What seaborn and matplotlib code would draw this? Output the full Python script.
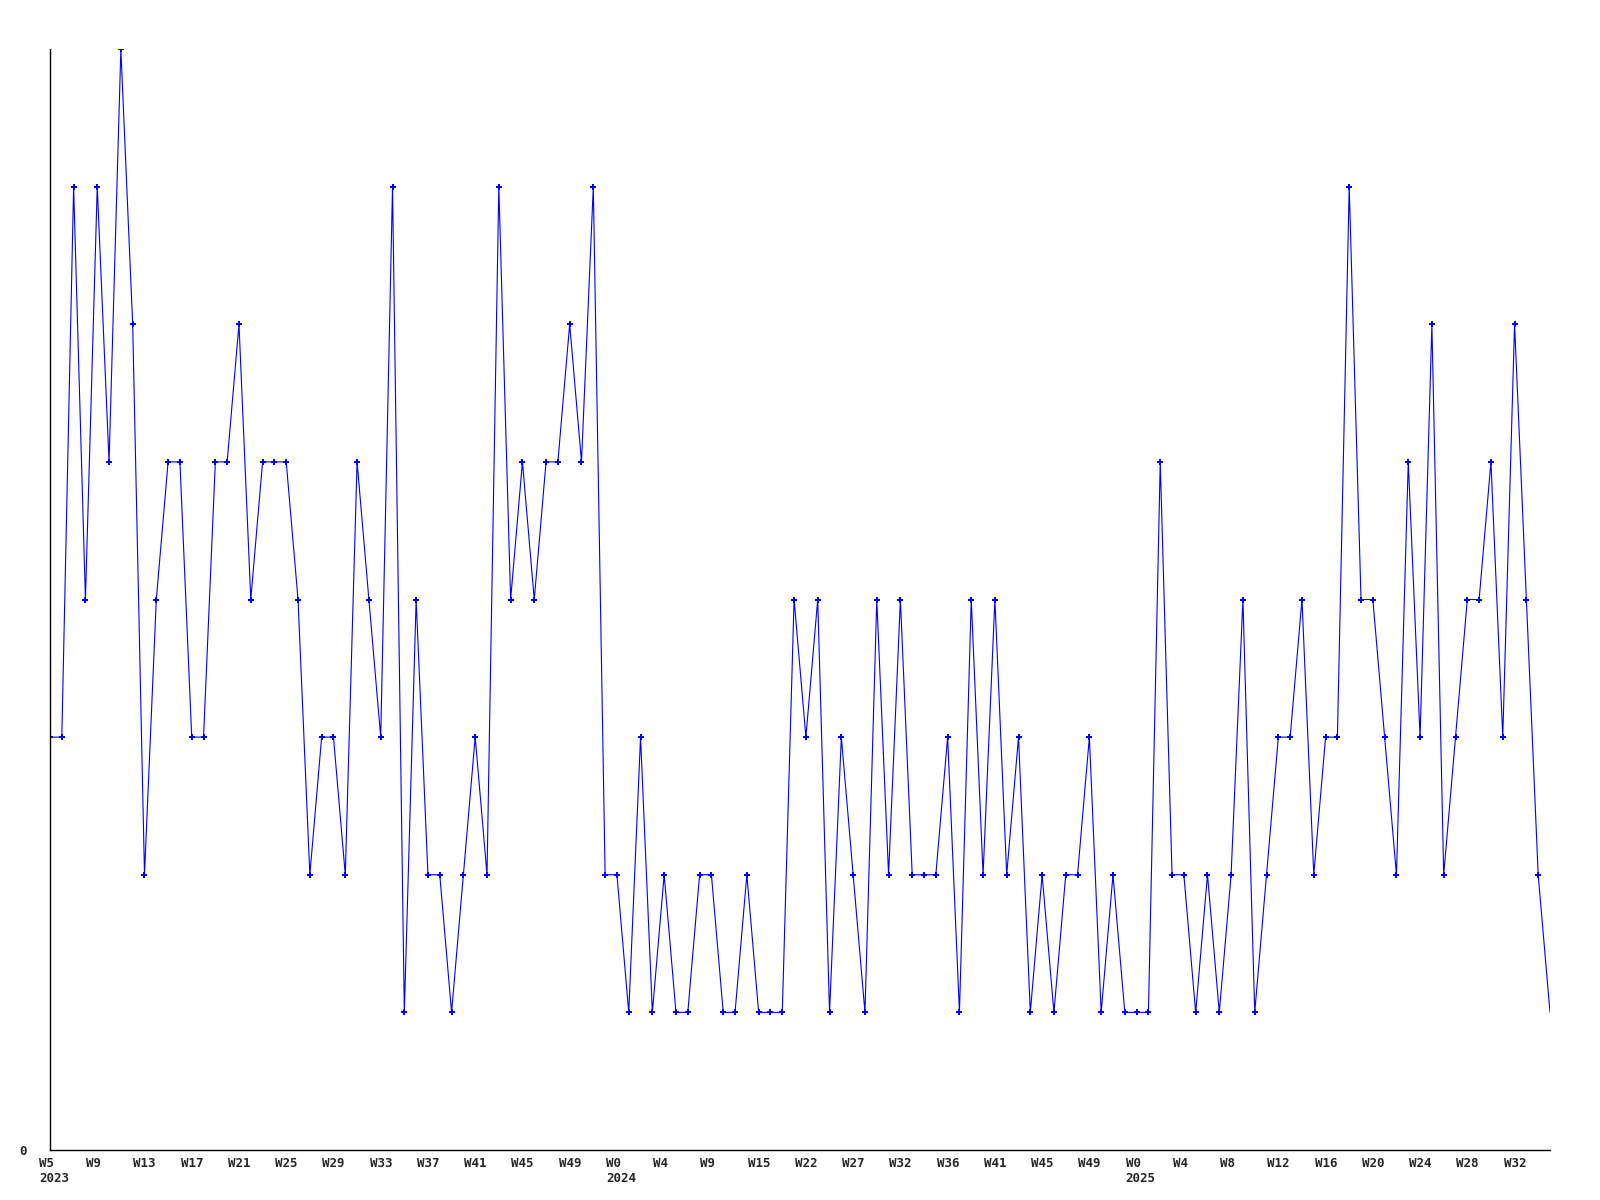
import matplotlib
matplotlib.use("Agg")
import matplotlib.pyplot as plt
import matplotlib.transforms as mtransforms
import pandas as pd
import seaborn as sns

# weekly counts, 2023 W5 .. 2025 W33
counts = [
    3, 3, 7, 4, 7, 5, 8, 6, 2, 4,
    5, 5, 3, 3, 5, 5, 6, 4, 5, 5,
    5, 4, 2, 3, 3, 2, 5, 4, 3, 7,
    1, 4, 2, 2, 1, 2, 3, 2, 7, 4,
    5, 4, 5, 5, 6, 5, 7, 2, 2, 1,
    3, 1, 2, 1, 1, 2, 2, 1, 1, 2,
    1, 1, 1, 4, 3, 4, 1, 3, 2, 1,
    4, 2, 4, 2, 2, 2, 3, 1, 4, 2,
    4, 2, 3, 1, 2, 1, 2, 2, 3, 1,
    2, 1, 1, 1, 5, 2, 2, 1, 2, 1,
    2, 4, 1, 2, 3, 3, 4, 2, 3, 3,
    7, 4, 4, 3, 2, 5, 3, 6, 2, 3,
    4, 4, 5, 3, 6, 4, 2, 1,
]

# one label every 4th point
tick_labels = [
    "W5\n2023", "W9", "W13", "W17", "W21", "W25", "W29", "W33",
    "W37", "W41", "W45", "W49",
    "W0\n2024", "W4", "W9", "W15", "W22", "W27", "W32", "W36",
    "W41", "W45", "W49",
    "W0\n2025", "W4", "W8", "W12", "W16", "W20", "W24", "W28", "W32",
]

df = pd.DataFrame({"week": range(len(counts)), "count": counts})

sns.set_style("white")
plt.rcParams["font.family"] = ["DejaVu Sans Mono"]

fig = plt.figure(figsize=(16, 12), dpi=100)
ax = fig.add_axes([50 / 1600, 1 - 1150 / 1200, 1500 / 1600, 1101 / 1200])

sns.lineplot(data=df, x="week", y="count", color="#0000ff", linewidth=0.8,
             marker="P", markersize=4.5, markeredgewidth=0,
             markevery=list(range(len(counts) - 1)), ax=ax)

ax.set_xlim(0, len(counts) - 1)
ax.set_ylim(0, max(counts))
ax.set_yticks([0])
ax.set_yticklabels(["0"], fontsize=9, fontweight="bold")
ax.tick_params(axis="y", length=0, pad=17)

# x labels: left-aligned, a little left of each tick
ticks = list(range(0, len(counts), 4))
ax.set_xticks(ticks)
ax.set_xticklabels([])
ax.tick_params(axis="x", length=0)
shift = mtransforms.ScaledTranslation(-11 / 100, -7 / 100, fig.dpi_scale_trans)
label_tf = ax.get_xaxis_transform() + shift
for t, lab in zip(ticks, tick_labels):
    ax.text(t, 0, lab, transform=label_tf, ha="left", va="top",
            fontsize=9, fontweight="bold", linespacing=1.25)

ax.set_xlabel("")
ax.set_ylabel("")

sns.despine(ax=ax)
for side in ["left", "bottom"]:
    ax.spines[side].set_color("black")
    ax.spines[side].set_linewidth(1.0)

fig.savefig("out.png", dpi=100)
